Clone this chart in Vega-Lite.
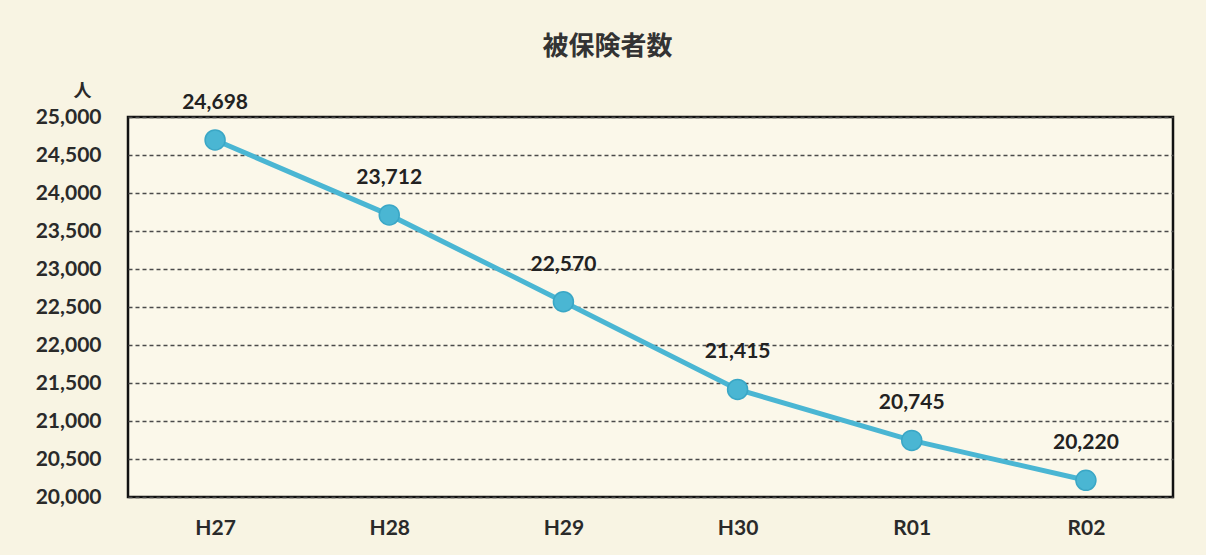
{
  "$schema": "https://vega.github.io/schema/vega-lite/v6.json",
  "width": 1045,
  "height": 380,
  "autosize": {"type": "none"},
  "padding": {"left": 128, "top": 117, "right": 33, "bottom": 58},
  "background": "#f8f4e3",
  "title": {
    "text": "被保険者数",
    "font": "Noto Sans CJK JP",
    "fontSize": 26,
    "fontWeight": "bold",
    "color": "#333333",
    "anchor": "middle",
    "dx": -43,
    "offset": 22
  },
  "data": {
    "values": [
      {"year": "H27", "count": 24698},
      {"year": "H28", "count": 23712},
      {"year": "H29", "count": 22570},
      {"year": "H30", "count": 21415},
      {"year": "R01", "count": 20745},
      {"year": "R02", "count": 20220}
    ]
  },
  "config": {
    "view": {"stroke": "#111111", "strokeWidth": 2.5, "fill": "#fbf8ea"},
    "axis": {"labelFont": "Lato", "labelFontWeight": "bold", "labelColor": "#2a2a2a"}
  },
  "encoding": {
    "x": {
      "field": "year",
      "type": "ordinal",
      "sort": null,
      "scale": {"type": "point", "padding": 0.5},
      "axis": {"title": null, "domain": false, "ticks": false, "labelAngle": 0, "labelFontSize": 21, "labelPadding": 20}
    },
    "y": {
      "field": "count",
      "type": "quantitative",
      "scale": {"domain": [20000, 25000], "nice": false, "zero": false},
      "axis": {
        "values": [20000, 20500, 21000, 21500, 22000, 22500, 23000, 23500, 24000, 24500, 25000],
        "labelExpr": "format(datum.value, ',.0f')",
        "labelFontSize": 21,
        "labelPadding": 27,
        "domain": false,
        "ticks": false,
        "grid": true,
        "gridColor": "#4a4a4a",
        "gridDash": [4, 3],
        "gridWidth": 1.3,
        "title": "人",
        "titleFont": "Noto Sans CJK JP",
        "titleFontSize": 18,
        "titleFontWeight": "bold",
        "titleColor": "#2a2a2a",
        "titleAngle": 0,
        "titleX": -46,
        "titleY": -26,
        "titleAlign": "center",
        "titleBaseline": "middle"
      }
    }
  },
  "layer": [
    {"mark": {"type": "line", "color": "#4ab6d3", "strokeWidth": 5}},
    {"mark": {"type": "point", "filled": true, "color": "#4ab6d3", "size": 400, "opacity": 1, "stroke": "#3aa7c6", "strokeWidth": 1.5}},
    {
      "mark": {"type": "text", "dy": -37, "baseline": "middle", "align": "center", "font": "Lato", "fontWeight": "bold", "fontSize": 21, "color": "#222222"},
      "encoding": {"text": {"field": "count", "type": "quantitative", "format": ",.0f"}}
    }
  ]
}
